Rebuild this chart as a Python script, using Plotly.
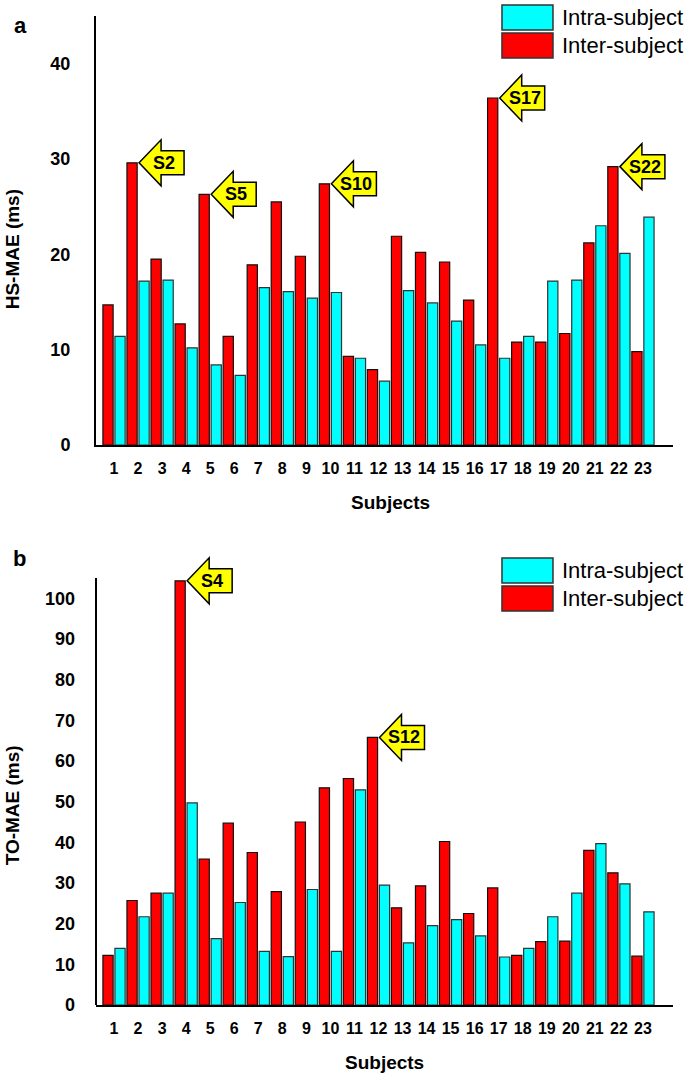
import plotly.graph_objects as go

subjects = list(range(1, 24))
subject_labels = [str(s) for s in subjects]

hs_intra = [11.4, 17.2, 17.3, 10.2, 8.4, 7.3, 16.5, 16.1, 15.4, 16.0, 9.1, 6.7,
            16.2, 14.9, 13.0, 10.5, 9.1, 11.4, 17.2, 17.3, 23.0, 20.1, 23.9]
hs_inter = [14.7, 29.6, 19.5, 12.7, 26.3, 11.4, 18.9, 25.5, 19.8, 27.4, 9.3, 7.9,
            21.9, 20.2, 19.2, 15.2, 36.4, 10.8, 10.8, 11.7, 21.2, 29.2, 9.8]

to_intra = [13.9, 21.7, 27.5, 49.7, 16.3, 25.2, 13.2, 11.9, 28.4, 13.2, 52.9, 29.5,
            15.3, 19.5, 21.0, 17.0, 11.8, 13.9, 21.7, 27.5, 39.7, 29.8, 22.9]
to_inter = [12.2, 25.7, 27.5, 104.3, 35.9, 44.7, 37.5, 27.9, 45.0, 53.4, 55.7, 65.8,
            23.9, 29.3, 40.2, 22.5, 28.8, 12.2, 15.6, 15.7, 38.0, 32.5, 12.0]

hs_marked = [2, 5, 10, 17, 22]
to_marked = [4, 12]

RED = "#FF0000"
CYAN = "#00FFFF"
FONT = "Arial, Liberation Sans, sans-serif"

fig = go.Figure()
for xa, ya, inter, intra in [("x", "y", hs_inter, hs_intra), ("x2", "y2", to_inter, to_intra)]:
    fig.add_trace(go.Bar(x=subjects, y=inter, name="Inter-subject", xaxis=xa, yaxis=ya,
                         marker=dict(color=RED, line=dict(color="#111111", width=1.2)),
                         showlegend=False))
    fig.add_trace(go.Bar(x=subjects, y=intra, name="Intra-subject", xaxis=xa, yaxis=ya,
                         marker=dict(color=CYAN, line=dict(color="#333333", width=1.2)),
                         showlegend=False))

axis_common = dict(showgrid=False, zeroline=False, showline=True, linecolor="black",
                   linewidth=2, ticks="", automargin=False)
xcommon = dict(axis_common, tickmode="array", tickvals=subjects, ticktext=subject_labels,
               range=[0.25, 24.25], ticklabelstandoff=8,
               tickfont=dict(family=FONT, size=16, color="black", weight="bold"))
ycommon = dict(axis_common, ticklabelstandoff=20,
               tickfont=dict(family=FONT, size=18, color="black", weight="bold"))

# pixel layout: plot area x 96..673, y 16..1005
top_dom = [0.5662, 1.0]
# bottom panel: axis visible up to 105 (y=578 px); domain extended so the S4 arrow is not clipped
bot_top_val = 105 * (1005 - 550) / (1005 - 578)
bot_dom = [0.0, (1005 - 550) / 989]

fig.update_layout(
    width=685, height=1079,
    margin=dict(l=96, r=12, t=16, b=74, autoexpand=False),
    paper_bgcolor="white", plot_bgcolor="white",
    barmode="group", bargap=0.0, bargroupgap=0.15,
    xaxis=dict(xcommon, domain=[0, 1], anchor="y"),
    yaxis=dict(ycommon, domain=top_dom, anchor="x", range=[0, 45], tickvals=[0, 10, 20, 30, 40]),
    xaxis2=dict(xcommon, domain=[0, 1], anchor="y2"),
    yaxis2=dict(ycommon, domain=bot_dom, anchor="x2", range=[0, bot_top_val], showline=False,
                tickvals=[0, 10, 20, 30, 40, 50, 60, 70, 80, 90, 100]),
    font=dict(family=FONT, color="black"),
)

shapes = []
annotations = []

# visible y-axis line of bottom panel (0..105)
shapes.append(dict(type="line", xref="x2 domain", yref="y2", x0=0, x1=0, y0=0, y1=105,
                   line=dict(color="black", width=2), layer="above"))

arrow_path = "M 1,0 L 23,23 L 23,12 L 46,12 L 46,-12 L 23,-12 L 23,-23 Z"
for xa, ya, marked, inter in [("x", "y", hs_marked, hs_inter), ("x2", "y2", to_marked, to_inter)]:
    for s in marked:
        val = inter[subjects.index(s)]
        shapes.append(dict(type="path", xref=xa, yref=ya, xsizemode="pixel", ysizemode="pixel",
                           xanchor=s, yanchor=val, path=arrow_path,
                           fillcolor="#FFFF00", line=dict(color="black", width=1.5), layer="above"))
        annotations.append(dict(x=s, y=val, xref=xa, yref=ya, xshift=26, text="S%d" % s,
                                showarrow=False, xanchor="center", yanchor="middle",
                                font=dict(family=FONT, size=18, color="black", weight="bold")))

# Legends (custom, large swatches)
def add_legend(y_top_cyan, y_bot_cyan, y_top_red, y_bot_red):
    x0, x1 = 0.7036, 0.7920
    shapes.append(dict(type="rect", xref="paper", yref="paper", x0=x0, x1=x1,
                       y0=y_bot_cyan, y1=y_top_cyan, fillcolor=CYAN,
                       line=dict(color="#333333", width=1.5)))
    shapes.append(dict(type="rect", xref="paper", yref="paper", x0=x0, x1=x1,
                       y0=y_bot_red, y1=y_top_red, fillcolor=RED,
                       line=dict(color="#333333", width=1.5)))
    for txt, yc in [("Intra-subject", (y_top_cyan + y_bot_cyan) / 2),
                    ("Inter-subject", (y_top_red + y_bot_red) / 2)]:
        annotations.append(dict(x=0.8045, y=yc, xref="paper", yref="paper", text=txt,
                                showarrow=False, xanchor="left", yanchor="middle",
                                font=dict(family=FONT, size=22, color="black")))

add_legend(1.0111, 0.9858, 0.9828, 0.9575)
add_legend(0.4520, 0.4267, 0.4236, 0.3983)

# Axis titles and panel labels
bold = lambda sz: dict(family=FONT, size=sz, color="black", weight="bold")
def lab(x, y, text, sz, angle=0):
    return dict(x=x, y=y, xref="paper", yref="paper", text=text, textangle=angle,
                showarrow=False, xanchor="center", yanchor="middle", font=bold(sz))

annotations += [
    lab(-0.145, 0.7644, "HS-MAE (ms)", 19, -90),
    lab(-0.145, 0.2022, "TO-MAE (ms)", 19, -90),
    lab(0.51, 0.5076, "Subjects", 19),
    lab(0.50, -0.0586, "Subjects", 19),
    lab(-0.1317, 0.9899, "a", 22),
    lab(-0.1334, 0.451, "b", 22),
]

fig.update_layout(shapes=shapes, annotations=annotations)
fig.write_html("out.html", config={"displayModeBar": False},
               post_script="document.body.style.margin='0';document.body.style.padding='0';"
                           "document.documentElement.style.overflow='hidden';")
